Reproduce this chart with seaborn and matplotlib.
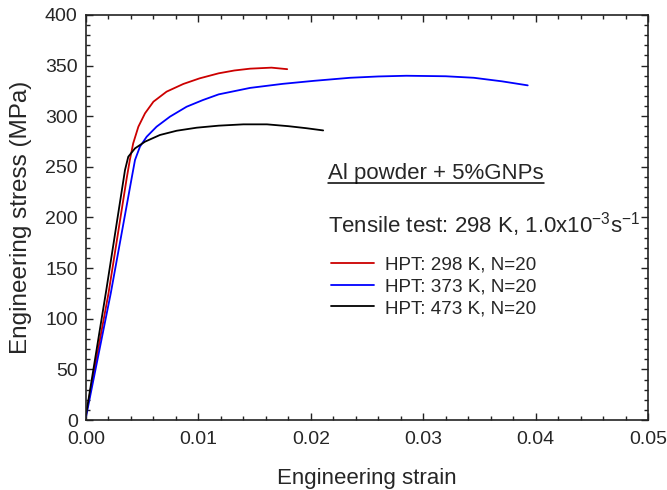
import numpy as np
import pandas as pd
import matplotlib
matplotlib.use("Agg")
import matplotlib.pyplot as plt
import seaborn as sns
from matplotlib.ticker import MultipleLocator, FormatStrFormatter
from matplotlib.lines import Line2D

# ---- data ----
red_strain = [0.0, 0.0020, 0.00362, 0.0039, 0.0042, 0.00466, 0.00525, 0.0060, 0.00717, 0.00866,
              0.0101, 0.0118, 0.0132, 0.0146, 0.0165, 0.0179]
red_stress = [5, 125, 238.7, 256.8, 273.3, 289.7, 302.9, 314.4, 324.3, 331.9,
              337.4, 342.4, 345.2, 347, 348, 346.5]

blue_strain = [0.0, 0.0022, 0.00406, 0.00436, 0.0048, 0.0054, 0.00628, 0.00747, 0.00895, 0.0104,
               0.0118, 0.0146, 0.0175, 0.0203, 0.0235, 0.0260, 0.0285, 0.0320, 0.0345, 0.0370, 0.0393]
blue_stress = [3, 125, 238.7, 256.8, 270, 279.8, 289.7, 299.6, 309.4, 316,
               321.6, 328, 332, 335, 338, 339.3, 340, 339.5, 338, 334.5, 330.5]

black_strain = [0.0, 0.0018, 0.00347, 0.00376, 0.00436, 0.00525, 0.00658, 0.00807, 0.00985, 0.0118,
                0.0140, 0.0161, 0.0180, 0.0196, 0.0211]
black_stress = [5, 128, 246.9, 260, 268.3, 274.9, 281.5, 285.7, 288.7, 290.7,
                292, 292, 290.2, 288.2, 286]

labels = ["HPT: 298 K, N=20", "HPT: 373 K, N=20", "HPT: 473 K, N=20"]
colors = ["#cc0000", "#0000ff", "#000000"]

df = pd.concat([
    pd.DataFrame({"strain": red_strain, "stress": red_stress, "series": labels[0]}),
    pd.DataFrame({"strain": blue_strain, "stress": blue_stress, "series": labels[1]}),
    pd.DataFrame({"strain": black_strain, "stress": black_stress, "series": labels[2]}),
], ignore_index=True)

sns.set_style("ticks")
plt.rcParams["font.family"] = ["Liberation Sans", "DejaVu Sans"]
plt.rcParams["mathtext.fontset"] = "custom"
plt.rcParams["mathtext.rm"] = "Liberation Sans"
plt.rcParams["mathtext.it"] = "Liberation Sans:italic"
plt.rcParams["mathtext.bf"] = "Liberation Sans:bold"

fig = plt.figure(figsize=(6.67, 4.90), dpi=100)
ax = fig.add_axes([86/667, 70/490, 562/667, 405/490])

sns.lineplot(data=df, x="strain", y="stress", hue="series", hue_order=labels,
             palette=dict(zip(labels, colors)), sort=False, estimator=None,
             linewidth=1.3, ax=ax)

ax.set_xlim(0, 0.05)
ax.set_ylim(0, 400)
ax.xaxis.set_major_locator(MultipleLocator(0.01))
ax.xaxis.set_minor_locator(MultipleLocator(0.002))
ax.yaxis.set_major_locator(MultipleLocator(50))
ax.yaxis.set_minor_locator(MultipleLocator(10))
ax.xaxis.set_major_formatter(FormatStrFormatter("%.2f"))

ax.tick_params(which="both", direction="in", top=True, right=True, width=1.0, color="#222222")
ax.tick_params(which="major", length=5)
ax.tick_params(which="minor", length=3)
ax.tick_params(axis="x", which="major", labelsize=14, pad=8)
ax.tick_params(axis="y", which="major", labelsize=14, pad=6)
for s in ax.spines.values():
    s.set_linewidth(1.2)
    s.set_color("#222222")

ax.set_xlabel("Engineering strain", fontsize=16, labelpad=14)
ax.set_ylabel("Engineering stress (MPa)", fontsize=17.5, labelpad=9)

title_txt = ax.text(0.4306, 0.595, "Al powder + 5%GNPs",
                    transform=ax.transAxes, fontsize=16, ha="left", va="baseline")
ax.text(0.4306, 0.464, r"Tensile test: 298 K, 1.0x10$^{\mathrm{-3}}$s$^{\mathrm{-1}}$",
        transform=ax.transAxes, fontsize=16, ha="left", va="baseline")

leg = ax.legend(loc="upper left", bbox_to_anchor=(0.436, 0.405), frameon=False,
                fontsize=13.6, borderpad=0, borderaxespad=0, handlelength=2.28,
                handletextpad=0.58, labelspacing=0.25)
for line in leg.get_lines():
    line.set_linewidth(1.3)

# underline for the annotation
fig.canvas.draw()
bb = title_txt.get_window_extent(renderer=fig.canvas.get_renderer())
inv = fig.transFigure.inverted()
(x0, y0), (x1, _) = inv.transform([(bb.x0, bb.y0), (bb.x1, bb.y0)])
fig.add_artist(Line2D([x0, x1], [y0 + 1.0/490, y0 + 1.0/490], color="black",
                      linewidth=1.1, transform=fig.transFigure))

fig.savefig("out.png", dpi=100)
